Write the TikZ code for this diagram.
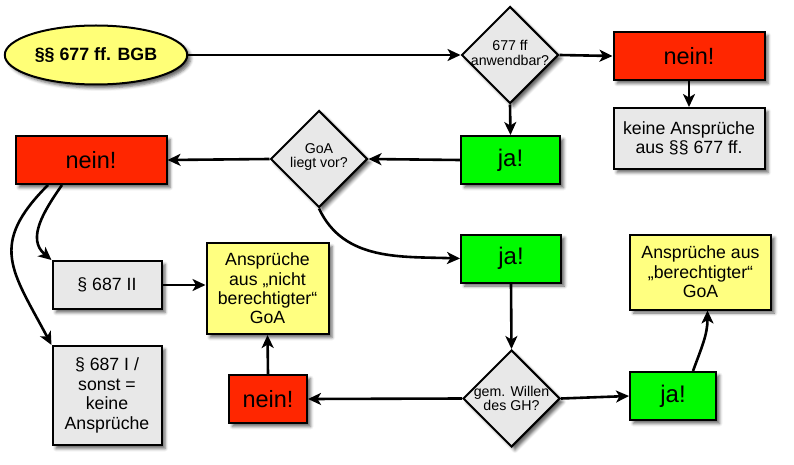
\documentclass[tikz,border=0pt]{standalone}
\usepackage{fontspec}
\setmainfont{Liberation Sans}
\usetikzlibrary{shapes.geometric,arrows.meta,shadows.blur}
\definecolor{neinred}{HTML}{FF2600}
\definecolor{jagreen}{HTML}{00FA00}
\definecolor{gelb}{HTML}{FFFF80}
\definecolor{ovalgelb}{HTML}{FFFF77}
\definecolor{grau}{HTML}{E8E8E8}
\tikzset{
  schatten/.style={blur shadow={shadow xshift=3.5pt,shadow yshift=-3.5pt,shadow blur radius=3pt,shadow opacity=60}},
  box/.style={draw,rectangle,line width=2pt,inner sep=0pt,align=center,schatten},
  neinbox/.style={box,fill=neinred,minimum height=48pt,font=\fontsize{23.5}{26}\selectfont},
  jabox/.style={box,fill=jagreen,minimum height=48pt,font=\fontsize{24}{26}\selectfont},
  graubox/.style={box,fill=grau,font=\fontsize{17.7}{19.4}\selectfont},
  gelbbox/.style={box,fill=gelb,font=\fontsize{17.7}{19.4}\selectfont},
  frage/.style={draw,diamond,line width=2pt,fill=grau,minimum width=97pt,minimum height=97pt,inner sep=0pt,schatten},
  fragetext/.style={align=center,font=\fontsize{14.2}{14.8}\selectfont},
  pfeil/.style={-{Stealth[length=13pt,width=12pt,inset=3.5pt]},line width=2.6pt}
}
\begin{document}
\begin{tikzpicture}[x=1pt,y=-1pt]
  \useasboundingbox (0,0) rectangle (794,465);
  \node[draw,ellipse,line width=2pt,fill=ovalgelb,minimum width=166pt,minimum height=59pt,
        font=\bfseries\fontsize{17.8}{20}\selectfont,schatten] (bgb) at (96,55) {§§ 677 ff. BGB};
  \node[frage,label={[fragetext,yshift=2pt]center:677 ff\\anwendbar?}] (q1) at (510,55) {};
  \node[neinbox,minimum width=151pt] (nein1) at (689,56) {nein!};
  \node[graubox,minimum width=151pt,minimum height=61pt] (keine) at (689,138.5) {keine Ansprüche\\aus §§ 677 ff.};
  \node[jabox,minimum width=99pt] (ja1) at (510.5,160) {ja!};
  \node[frage,label={[fragetext,yshift=2pt]center:GoA\\liegt vor?}] (q2) at (319,159) {};
  \node[neinbox,minimum width=151pt] (nein2) at (91,160) {nein!};
  \node[jabox,minimum width=100pt] (ja2) at (511,258.5) {ja!};
  \node[graubox,minimum width=109pt,minimum height=48pt] (p2) at (107,285) {§ 687 II};
  \node[graubox,minimum width=109pt,minimum height=99pt] (p1) at (107,395.5) {§ 687 I /\\sonst =\\keine\\Ansprüche};
  \node[gelbbox,minimum width=122pt,minimum height=91pt] (y1) at (267.5,288.5) {Ansprüche\\aus „nicht\\berechtigter“\\GoA};
  \node[neinbox,minimum width=78pt] (nein3) at (268,399) {nein!};
  \node[frage,label={[fragetext]center:gem. Willen\\des GH?}] (q3) at (511.5,398.5) {};
  \node[jabox,minimum width=86pt] (ja3) at (673,396) {ja!};
  \node[gelbbox,minimum width=141pt,minimum height=75pt] (y2) at (700.5,272) {Ansprüche aus\\„berechtigter“\\GoA};

  \draw[pfeil] (bgb.east) -- (q1.west);
  \draw[pfeil] (q1.east) -- (nein1.west);
  \draw[pfeil] (nein1.south) -- (keine.north);
  \draw[pfeil] (q1.south) -- (ja1.north);
  \draw[pfeil] (ja1.west) -- (q2.east);
  \draw[pfeil] (q2.west) -- (nein2.east);
  \draw[pfeil] (q2.south) to[out=-65,in=178] (ja2.west);
  \draw[pfeil] ([xshift=-29pt]nein2.south) to[out=-125,in=140,looseness=1.1] (p2.north west);
  \draw[pfeil] ([xshift=-43pt]nein2.south) to[out=-135,in=118,looseness=1.35] (p1.north west);
  \draw[pfeil] (p2.east) -- (p2.east -| y1.west);
  \draw[pfeil] (nein3.north) -- (y1.south);
  \draw[pfeil] (ja2.south) -- (q3.north);
  \draw[pfeil] (q3.west) -- (nein3.east);
  \draw[pfeil] (q3.east) -- (ja3.west);
  \draw[pfeil] ([xshift=20pt]ja3.north) to[out=70,in=-90] ([xshift=7pt]y2.south);
\end{tikzpicture}
\end{document}
